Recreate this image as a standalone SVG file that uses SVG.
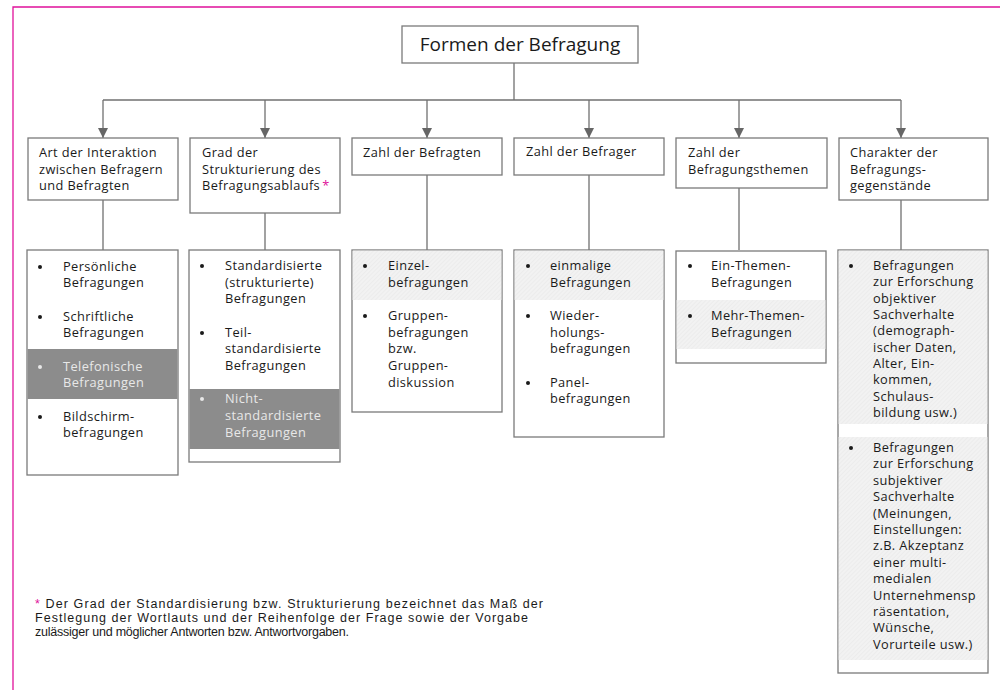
<svg xmlns="http://www.w3.org/2000/svg" width="1000" height="690" viewBox="0 0 1000 690">
<style>
.box{fill:#fff;stroke:#7a7a7a;stroke-width:1.3}
.t{font-family:"Open Sans","Noto Sans",sans-serif;font-size:12.8px;fill:#1a1a1a;letter-spacing:0.4px}
.tl{font-family:"Open Sans","Noto Sans",sans-serif;font-size:12.8px;fill:#e8e8e8;letter-spacing:0.4px}
.title{font-family:"Open Sans","Noto Sans",sans-serif;font-size:19px;fill:#1a1a1a}
.fn{font-family:"Liberation Sans",Arial,sans-serif;font-size:12.5px;fill:#1a1a1a}
.ln{stroke:#707070;stroke-width:1.3;fill:none}
.bd{fill:#1a1a1a}
.bl{fill:#e8e8e8}
.dark{fill:#8c8c8c}
.hat{fill:url(#hatch)}
.mag{fill:#e0119a}
</style>
<defs>
<pattern id="hatch" width="3" height="3" patternUnits="userSpaceOnUse" patternTransform="rotate(45)">
<rect width="3" height="3" fill="#f2f2f2"/>
<line x1="0" y1="0" x2="0" y2="3" stroke="#e7e7e7" stroke-width="1"/>
</pattern>
<marker id="arr" markerUnits="userSpaceOnUse" markerWidth="10" markerHeight="10" refX="10" refY="5" orient="auto">
<path d="M0,0 L10,5 L0,10 z" fill="#666"/>
</marker>
</defs>
<rect width="1000" height="690" fill="#fff"/>
<path d="M13,690 V7 H1000" fill="none" stroke="#e0119a" stroke-width="1.3"/>

<g id="connectors">
<line class="ln" x1="514" y1="63" x2="514" y2="100"/>
<line class="ln" x1="103" y1="100" x2="901" y2="100"/>
<line class="ln" x1="103" y1="100" x2="103" y2="138" marker-end="url(#arr)"/>
<line class="ln" x1="265" y1="100" x2="265" y2="138" marker-end="url(#arr)"/>
<line class="ln" x1="427" y1="100" x2="427" y2="138" marker-end="url(#arr)"/>
<line class="ln" x1="589" y1="100" x2="589" y2="138" marker-end="url(#arr)"/>
<line class="ln" x1="739" y1="100" x2="739" y2="138" marker-end="url(#arr)"/>
<line class="ln" x1="901" y1="100" x2="901" y2="138" marker-end="url(#arr)"/>
<line class="ln" x1="103" y1="200" x2="103" y2="250"/>
<line class="ln" x1="265" y1="213" x2="265" y2="250"/>
<line class="ln" x1="427" y1="175" x2="427" y2="250"/>
<line class="ln" x1="589" y1="175" x2="589" y2="250"/>
<line class="ln" x1="739" y1="188" x2="739" y2="250"/>
<line class="ln" x1="901" y1="200" x2="901" y2="250"/>
</g>

<g id="root">
<rect class="box" x="402" y="26" width="236" height="37"/>
<text class="title" x="520" y="51" text-anchor="middle">Formen der Befragung</text>
</g>

<g id="cat1">
<rect class="box" x="28" y="138" width="150" height="62"/>
<text class="t" x="39" y="157">Art der Interaktion</text>
<text class="t" x="39" y="174">zwischen Befragern</text>
<text class="t" x="39" y="190">und Befragten</text>
</g>
<g id="cat2">
<rect class="box" x="190" y="138" width="150" height="75"/>
<text class="t" x="202" y="157">Grad der</text>
<text class="t" x="202" y="174">Strukturierung des</text>
<text class="t" x="202" y="190">Befragungsablaufs<tspan class="mag" dx="2">*</tspan></text>
</g>
<g id="cat3">
<rect class="box" x="352" y="138" width="150" height="37"/>
<text class="t" x="363" y="157">Zahl der Befragten</text>
</g>
<g id="cat4">
<rect class="box" x="514" y="138" width="150" height="37"/>
<text class="t" x="526" y="156">Zahl der Befrager</text>
</g>
<g id="cat5">
<rect class="box" x="676" y="138" width="151" height="50"/>
<text class="t" x="688" y="157">Zahl der</text>
<text class="t" x="688" y="174">Befragungsthemen</text>
</g>
<g id="cat6">
<rect class="box" x="839" y="138" width="149" height="62"/>
<text class="t" x="850" y="157">Charakter der</text>
<text class="t" x="850" y="174">Befragungs-</text>
<text class="t" x="850" y="190">gegenstände</text>
</g>

<g id="list1">
<rect class="box" x="27" y="250" width="151" height="225"/>
<rect class="dark" x="27.6" y="349" width="149.8" height="50"/>
<circle class="bd" cx="40" cy="267" r="2"/>
<text class="t" x="63" y="271">Persönliche</text>
<text class="t" x="63" y="287">Befragungen</text>
<circle class="bd" cx="40" cy="317" r="2"/>
<text class="t" x="63" y="321">Schriftliche</text>
<text class="t" x="63" y="337">Befragungen</text>
<circle class="bl" cx="40" cy="367" r="2"/>
<text class="tl" x="63" y="371">Telefonische</text>
<text class="tl" x="63" y="387">Befragungen</text>
<circle class="bd" cx="40" cy="417" r="2"/>
<text class="t" x="63" y="421">Bildschirm-</text>
<text class="t" x="63" y="437">befragungen</text>
</g>

<g id="list2">
<rect class="box" x="189" y="250" width="151" height="212"/>
<rect class="dark" x="189.6" y="389" width="149.8" height="60"/>
<circle class="bd" cx="202" cy="266" r="2"/>
<text class="t" x="225" y="270">Standardisierte</text>
<text class="t" x="225" y="287">(strukturierte)</text>
<text class="t" x="225" y="303">Befragungen</text>
<circle class="bd" cx="202" cy="333" r="2"/>
<text class="t" x="225" y="337">Teil-</text>
<text class="t" x="225" y="353">standardisierte</text>
<text class="t" x="225" y="370">Befragungen</text>
<circle class="bl" cx="202" cy="399" r="2"/>
<text class="tl" x="225" y="403">Nicht-</text>
<text class="tl" x="225" y="420">standardisierte</text>
<text class="tl" x="225" y="437">Befragungen</text>
</g>

<g id="list3">
<rect class="box" x="352" y="250" width="150" height="162"/>
<rect class="hat" x="352.6" y="250.6" width="148.8" height="49.4"/>
<circle class="bd" cx="365" cy="266" r="2"/>
<text class="t" x="388" y="270">Einzel-</text>
<text class="t" x="388" y="287">befragungen</text>
<circle class="bd" cx="365" cy="316" r="2"/>
<text class="t" x="388" y="320">Gruppen-</text>
<text class="t" x="388" y="337">befragungen</text>
<text class="t" x="388" y="353">bzw.</text>
<text class="t" x="388" y="370">Gruppen-</text>
<text class="t" x="388" y="387">diskussion</text>
</g>

<g id="list4">
<rect class="box" x="514" y="250" width="150" height="187"/>
<rect class="hat" x="514.6" y="250.6" width="148.8" height="49.4"/>
<circle class="bd" cx="528" cy="266" r="2"/>
<text class="t" x="550" y="270">einmalige</text>
<text class="t" x="550" y="287">Befragungen</text>
<circle class="bd" cx="528" cy="316" r="2"/>
<text class="t" x="550" y="320">Wieder-</text>
<text class="t" x="550" y="337">holungs-</text>
<text class="t" x="550" y="353">befragungen</text>
<circle class="bd" cx="528" cy="383" r="2"/>
<text class="t" x="550" y="387">Panel-</text>
<text class="t" x="550" y="403">befragungen</text>
</g>

<g id="list5">
<rect class="box" x="676" y="251" width="150" height="112"/>
<rect class="hat" x="676.6" y="300" width="148.8" height="49"/>
<circle class="bd" cx="690" cy="266" r="2"/>
<text class="t" x="711" y="270">Ein-Themen-</text>
<text class="t" x="711" y="287">Befragungen</text>
<circle class="bd" cx="690" cy="316" r="2"/>
<text class="t" x="711" y="320">Mehr-Themen-</text>
<text class="t" x="711" y="337">Befragungen</text>
</g>

<g id="list6">
<rect class="box" x="838" y="250" width="150" height="423"/>
<rect class="hat" x="838.6" y="250.6" width="148.8" height="173.4"/>
<rect class="hat" x="838.6" y="437" width="148.8" height="223"/>
<circle class="bd" cx="851" cy="266" r="2"/>
<text class="t" x="873" y="270">Befragungen</text>
<text class="t" x="873" y="286.3">zur Erforschung</text>
<text class="t" x="873" y="302.7">objektiver</text>
<text class="t" x="873" y="319">Sachverhalte</text>
<text class="t" x="873" y="335.3">(demograph-</text>
<text class="t" x="873" y="351.7">ischer Daten,</text>
<text class="t" x="873" y="368">Alter, Ein-</text>
<text class="t" x="873" y="384.3">kommen,</text>
<text class="t" x="873" y="400.7">Schulaus-</text>
<text class="t" x="873" y="417">bildung usw.)</text>
<circle class="bd" cx="851" cy="448" r="2"/>
<text class="t" x="873" y="452">Befragungen</text>
<text class="t" x="873" y="468.4">zur Erforschung</text>
<text class="t" x="873" y="484.8">subjektiver</text>
<text class="t" x="873" y="501.2">Sachverhalte</text>
<text class="t" x="873" y="517.6">(Meinungen,</text>
<text class="t" x="873" y="534">Einstellungen:</text>
<text class="t" x="873" y="550.4">z.B. Akzeptanz</text>
<text class="t" x="873" y="566.8">einer multi-</text>
<text class="t" x="873" y="583.2">medialen</text>
<text class="t" x="873" y="599.6">Unternehmensp</text>
<text class="t" x="873" y="616">räsentation,</text>
<text class="t" x="873" y="632.4">Wünsche,</text>
<text class="t" x="873" y="648.8">Vorurteile usw.)</text>
</g>

<g id="footnote">
<text class="fn" x="35" y="608" textLength="508" lengthAdjust="spacing"><tspan class="mag">*</tspan> Der Grad der Standardisierung bzw. Strukturierung bezeichnet das Maß der</text>
<text class="fn" x="35" y="622" textLength="493" lengthAdjust="spacing">Festlegung der Wortlauts und der Reihenfolge der Frage sowie der Vorgabe</text>
<text class="fn" x="35" y="636" textLength="314" lengthAdjust="spacing">zulässiger und möglicher Antworten bzw. Antwortvorgaben.</text>
</g>
</svg>
